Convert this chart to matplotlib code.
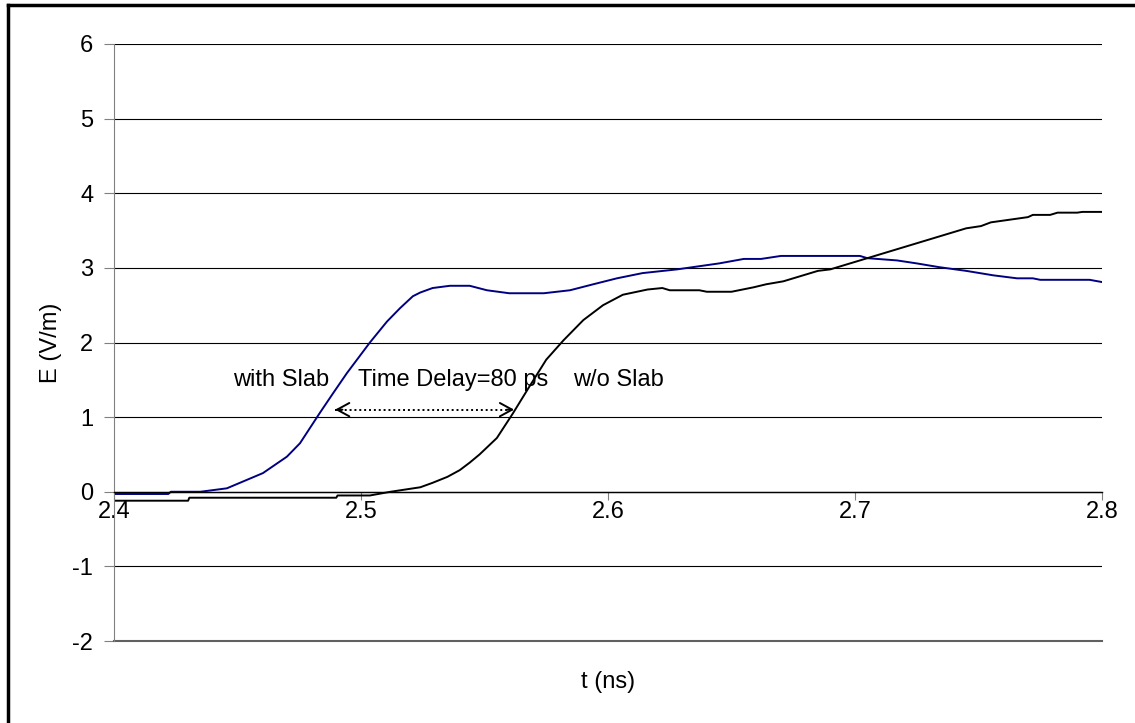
import matplotlib.pyplot as plt
from matplotlib.lines import Line2D

plt.rcParams["font.family"] = ["Liberation Sans", "DejaVu Sans"]
plt.rcParams["axes.unicode_minus"] = False

# with Slab (blue)
t_with = [2.4, 2.422, 2.423, 2.435, 2.4457, 2.4603, 2.470, 2.4753, 2.4834, 2.4887,
          2.4943, 2.5036, 2.5105, 2.5158, 2.521, 2.524, 2.529, 2.536, 2.544, 2.551,
          2.560, 2.574, 2.5846, 2.594, 2.6036, 2.614, 2.628, 2.645, 2.655, 2.662,
          2.670, 2.702, 2.705, 2.717, 2.725, 2.734, 2.745, 2.756, 2.7656, 2.772,
          2.775, 2.795, 2.8]
e_with = [-0.03, -0.03, 0.0, 0.0, 0.046, 0.25, 0.47, 0.65, 1.06, 1.32,
          1.59, 2.0, 2.28, 2.46, 2.62, 2.67, 2.73, 2.76, 2.76, 2.70,
          2.66, 2.66, 2.70, 2.78, 2.86, 2.93, 2.98, 3.06, 3.12, 3.12,
          3.16, 3.16, 3.13, 3.10, 3.06, 3.01, 2.96, 2.90, 2.86, 2.86,
          2.84, 2.84, 2.81]

# w/o Slab (black)
t_wo = [2.4, 2.430, 2.4305, 2.490, 2.4905, 2.5036, 2.512, 2.524, 2.529, 2.535,
        2.540, 2.544, 2.548, 2.555, 2.5615, 2.568, 2.575, 2.582, 2.590, 2.598,
        2.606, 2.616, 2.622, 2.625, 2.637, 2.640, 2.650, 2.659, 2.664, 2.671,
        2.678, 2.685, 2.690, 2.697, 2.705, 2.718, 2.732, 2.740, 2.745, 2.751,
        2.755, 2.770, 2.772, 2.779, 2.782, 2.790, 2.792, 2.8]
e_wo = [-0.12, -0.12, -0.08, -0.08, -0.05, -0.05, 0.0, 0.06, 0.12, 0.20,
        0.29, 0.39, 0.50, 0.72, 1.05, 1.40, 1.77, 2.03, 2.30, 2.50,
        2.64, 2.71, 2.73, 2.70, 2.70, 2.68, 2.68, 2.74, 2.78, 2.82,
        2.89, 2.96, 2.98, 3.05, 3.13, 3.26, 3.40, 3.48, 3.53, 3.56,
        3.61, 3.68, 3.71, 3.71, 3.74, 3.74, 3.75, 3.75]

y_ticks = [-2, -1, 0, 1, 2, 3, 4, 5, 6]
x_ticks = [2.4, 2.5, 2.6, 2.7, 2.8]
x_labels = ["2.4", "2.5", "2.6", "2.7", "2.8"]

# delay arrow ends and label row
arrow_t = [2.4895, 2.562]
arrow_e = 1.1
label_e = 1.5

fs = 17

fig = plt.figure(figsize=(11.35, 7.23), dpi=100)
ax = fig.add_axes([114 / 1135, 1 - 641 / 723, (1102 - 114) / 1135, (641 - 44) / 723])

ax.plot(t_with, e_with, color="#000080", lw=1.4)
ax.plot(t_wo, e_wo, color="black", lw=1.4)

ax.set_xlim(2.4, 2.8)
ax.set_ylim(-2, 6)
ax.set_yticks(y_ticks)
ax.set_xticks(x_ticks)
ax.set_xticklabels(x_labels)
ax.yaxis.grid(True, color="black", lw=0.8)
ax.set_axisbelow(True)

for s in ["top", "right"]:
    ax.spines[s].set_visible(False)
ax.spines["left"].set_color("#808080")
ax.spines["bottom"].set_position(("data", 0))
ax.spines["bottom"].set_color("black")
ax.spines["bottom"].set_linewidth(1.0)
ax.axhline(-2, color="#606060", lw=1.5, clip_on=False)

ax.tick_params(axis="y", direction="out", length=7, color="#808080", labelsize=fs, pad=8)
ax.tick_params(axis="x", direction="out", length=6, color="#808080", labelsize=fs, pad=1)

ax.set_xlabel("t (ns)", fontsize=fs, va="top")
ax.xaxis.set_label_coords(0.5, -0.05)
ax.set_ylabel("E (V/m)", fontsize=fs)
ax.yaxis.set_label_coords(-0.053, 0.5)

ax.text(2.448, label_e, "with Slab", fontsize=fs, va="center")
ax.text(2.4988, label_e, "Time Delay=80 ps", fontsize=fs, va="center")
ax.text(2.5858, label_e, "w/o Slab", fontsize=fs, va="center")

# dotted shaft with solid open heads
ax.plot(arrow_t, [arrow_e, arrow_e], color="black", lw=1.4, linestyle=(0, (1, 1.5)))
head = dict(arrowstyle="->,head_length=0.55,head_width=0.3", color="black", lw=1.4,
            shrinkA=0, shrinkB=0, mutation_scale=16)
ax.annotate("", xy=(arrow_t[0], arrow_e), xytext=(arrow_t[0] + 0.003, arrow_e), arrowprops=head)
ax.annotate("", xy=(arrow_t[1], arrow_e), xytext=(arrow_t[1] - 0.003, arrow_e), arrowprops=head)

# outer frame (only top and left are visible)
fig.add_artist(Line2D([8 / 1135, 8 / 1135], [0, 1 - 5 / 723], transform=fig.transFigure, color="black", lw=2.5))
fig.add_artist(Line2D([8 / 1135, 1], [1 - 5 / 723, 1 - 5 / 723], transform=fig.transFigure, color="black", lw=2.5))

fig.savefig("out.png", dpi=100)
plt.close(fig)
